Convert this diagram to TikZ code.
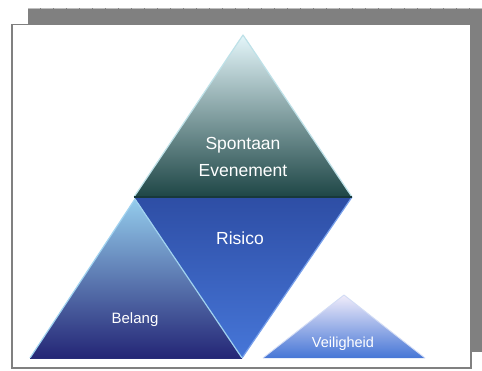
\documentclass[tikz,border=0pt]{standalone}
\usepackage{fontspec}
\setmainfont{Liberation Sans}
\begin{document}
\begin{tikzpicture}[x=1pt,y=-1pt,
  lbl/.style={text=white,inner sep=0pt,anchor=base},
  bevel/.style={line width=1.2pt,line join=round}]
\useasboundingbox (0,0) rectangle (482,370);
% shadow panel and white sheet
\fill[black!50] (28,8) rectangle (482,352);
\draw[black!25,line width=0.8pt,dash pattern=on 12pt off 1pt] (28,8.6) -- (482,8.6);
\draw[fill=white,draw=black!50,line width=1.4pt] (12,24.5) rectangle (471,368);
% vertices
\coordinate (ta) at (243,35);
\coordinate (tl) at (134,197);
\coordinate (tr) at (352,197);
\coordinate (rb) at (242,358);
\coordinate (ba) at (135,199);
\coordinate (bl) at (30,358);
\coordinate (va) at (344,295);
\coordinate (vl) at (263,358);
\coordinate (vr) at (425,358);
% Risico (inverted)
\shade[top color={rgb,255:red,46;green,78;blue,165},bottom color={rgb,255:red,70;green,118;blue,216}] (tl) -- (tr) -- (rb) -- cycle;
\draw[bevel,color={rgb,255:red,120;green,160;blue,235}] (tr) -- (rb);
% Spontaan triangle
\shade[top color={rgb,255:red,228;green,246;blue,250},middle color={rgb,255:red,118;green,162;blue,166},bottom color={rgb,255:red,30;green,70;blue,70}] (ta) -- (tr) -- (tl) -- cycle;
\draw[bevel,color={rgb,255:red,190;green,225;blue,232}] (tl) -- (ta) -- (tr);
\draw[line width=1.2pt,color={rgb,255:red,24;green,56;blue,58}] (tl) -- (tr);
% Belang triangle
\shade[top color={rgb,255:red,148;green,204;blue,236},middle color={rgb,255:red,88;green,118;blue,180},bottom color={rgb,255:red,36;green,38;blue,118}] (ba) -- (rb) -- (bl) -- cycle;
\draw[bevel,color={rgb,255:red,160;green,210;blue,240}] (bl) -- (ba) -- (rb);
\draw[line width=1pt,color={rgb,255:red,40;green,44;blue,120}] (bl) -- (rb);
% Veiligheid triangle
\shade[top color={rgb,255:red,240;green,236;blue,250},middle color={rgb,255:red,140;green,188;blue,240},bottom color={rgb,255:red,70;green,118;blue,214}] (va) -- (vr) -- (vl) -- cycle;
\draw[bevel,line width=0.9pt,color={rgb,255:red,210;green,220;blue,245}] (vl) -- (va) -- (vr);
% labels
\node[lbl,font=\fontsize{17.5}{20}\selectfont] (sp) at (243,149) {Spontaan};
\node[lbl,font=\fontsize{17.5}{20}\selectfont] (ev) at (243,176) {Evenement};
\node[lbl,font=\fontsize{17.5}{20}\selectfont] (ri) at (240,244) {Risico};
\node[lbl,font=\fontsize{15}{17}\selectfont] (be) at (135,323) {Belang};
\node[lbl,font=\fontsize{14.5}{17}\selectfont] (ve) at (343,347) {Veiligheid};
\end{tikzpicture}
\end{document}
